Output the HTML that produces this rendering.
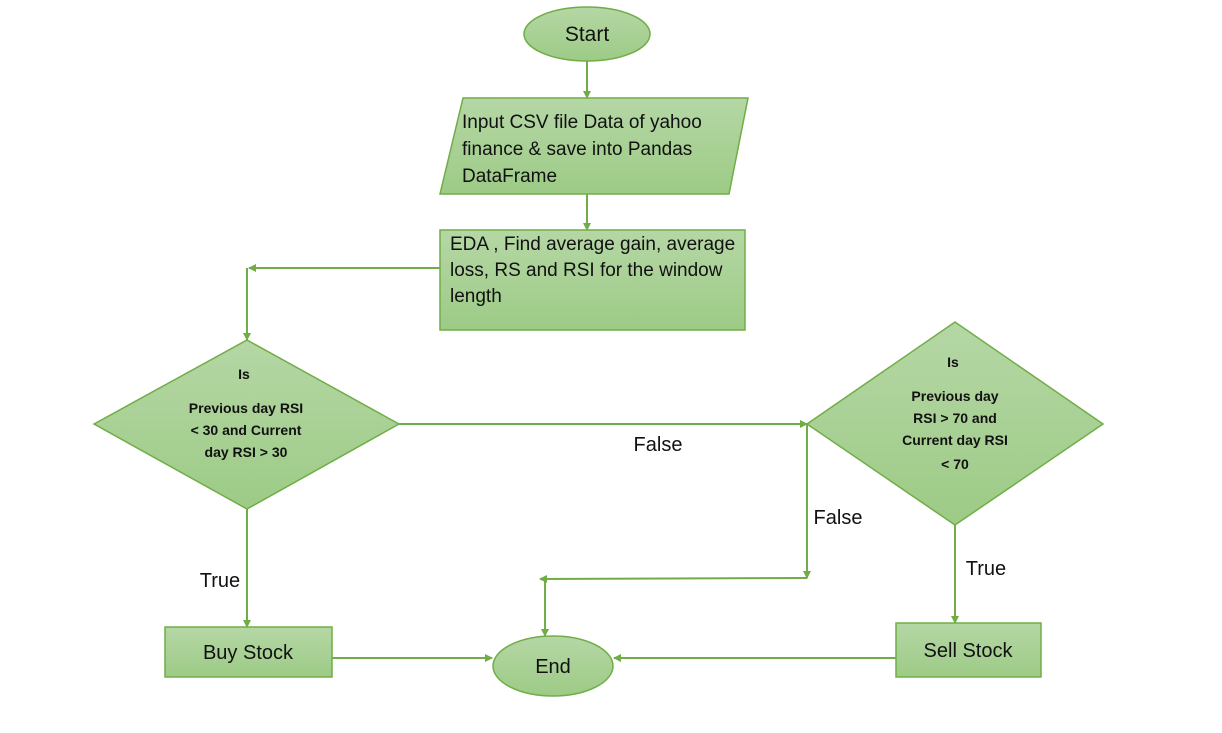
<!DOCTYPE html>
<html><head><meta charset="utf-8"><style>body{margin:0;background:#fff}svg{display:block}</style></head><body>
<svg width="1222" height="733" xmlns="http://www.w3.org/2000/svg" font-family="Liberation Sans, sans-serif">
<defs>
<linearGradient id="g" x1="0" y1="0" x2="0" y2="1"><stop offset="0" stop-color="#b5d7a5"/><stop offset="1" stop-color="#9dcb86"/></linearGradient>
<marker id="a" markerWidth="8" markerHeight="8" refX="7" refY="4" orient="auto" markerUnits="userSpaceOnUse"><path d="M0,0 L8,4 L0,8 z" fill="#70ad47"/></marker>
</defs>
<g stroke="#70ad47" stroke-width="1.5" fill="url(#g)">
<ellipse cx="587" cy="34" rx="63" ry="27"/>
<polygon points="463,98 748,98 729,194 440,194"/>
<rect x="440" y="230" width="305" height="100"/>
<polygon points="94,424 247,340 399,424 247,509"/>
<polygon points="807,424 955,322 1103,424 955,525"/>
<ellipse cx="553" cy="666" rx="60" ry="30"/>
<rect x="165" y="627" width="167" height="50"/>
<rect x="896" y="623" width="145" height="54"/>
</g>
<g stroke="#70ad47" stroke-width="2" fill="none" marker-end="url(#a)">
<line x1="587" y1="61" x2="587" y2="98"/>
<line x1="587" y1="194" x2="587" y2="230"/>
<polyline points="440,268 249,268"/>
<line x1="247" y1="268" x2="247" y2="340"/>
<line x1="399" y1="424" x2="807" y2="424"/>
<line x1="807" y1="424" x2="807" y2="578"/>
<line x1="807" y1="578" x2="540" y2="579"/>
<line x1="545" y1="579" x2="545" y2="636"/>
<line x1="247" y1="509" x2="247" y2="627"/>
<line x1="332" y1="658" x2="492" y2="658"/>
<line x1="955" y1="525" x2="955" y2="623"/>
<line x1="896" y1="658" x2="614" y2="658"/>
</g>
<g fill="#111" font-size="19">
<text x="587" y="41" text-anchor="middle" font-size="21">Start</text>
<text x="462" y="128">Input CSV file Data of yahoo</text>
<text x="462" y="155">finance &amp; save into Pandas</text>
<text x="462" y="182">DataFrame</text>
<text x="450" y="250">EDA , Find average gain, average</text>
<text x="450" y="276">loss, RS and RSI for the window</text>
<text x="450" y="302">length</text>
<text x="553" y="673" text-anchor="middle" font-size="20">End</text>
<text x="248" y="659" text-anchor="middle" font-size="20">Buy Stock</text>
<text x="968" y="657" text-anchor="middle" font-size="20">Sell Stock</text>
<text x="658" y="451" text-anchor="middle" font-size="20">False</text>
<text x="838" y="524" text-anchor="middle" font-size="20">False</text>
<text x="220" y="587" text-anchor="middle" font-size="20">True</text>
<text x="986" y="575" text-anchor="middle" font-size="20">True</text>
</g>
<g fill="#111" font-size="14" font-weight="bold" text-anchor="middle">
<text x="244" y="379">Is</text>
<text x="246" y="413">Previous day RSI</text>
<text x="246" y="435">&lt; 30 and Current</text>
<text x="246" y="457">day RSI &gt; 30</text>
<text x="953" y="367">Is</text>
<text x="955" y="401">Previous day</text>
<text x="955" y="423">RSI &gt; 70 and</text>
<text x="955" y="445">Current day RSI</text>
<text x="955" y="469">&lt; 70</text>
</g>
</svg>
</body></html>
